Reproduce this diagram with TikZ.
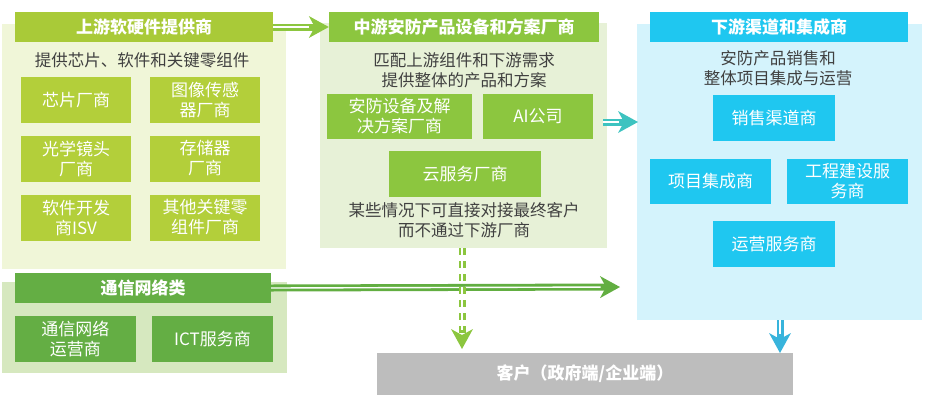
\documentclass[tikz,border=0pt]{standalone}
\usepackage{fontspec}
\setmainfont{Noto Sans CJK SC}
\usetikzlibrary{arrows.meta}
\definecolor{upbg}{HTML}{F0F6D8}
\definecolor{uphd}{HTML}{A9CA38}
\definecolor{upbx}{HTML}{B3CF3A}
\definecolor{midbg}{HTML}{E7F1D7}
\definecolor{midbx}{HTML}{8CC63F}
\definecolor{dnbg}{HTML}{D4F3FC}
\definecolor{dnbx}{HTML}{1FC7F0}
\definecolor{cmbg}{HTML}{D6E8BF}
\definecolor{cmbx}{HTML}{64AE44}
\definecolor{custg}{HTML}{BDBDBD}
\definecolor{txtg}{HTML}{404040}
\definecolor{arrA}{HTML}{8CC63F}
\definecolor{arrB}{HTML}{3DC3C0}
\definecolor{arrC}{HTML}{38B4DC}
\definecolor{arrD}{HTML}{62AE41}
\begin{document}
\begin{tikzpicture}[x=1pt,y=-1pt,
  panel/.style={rectangle, inner sep=0pt, draw=none},
  hdr/.style={rectangle, inner sep=0pt, text=white, font=\fontsize{17}{20}\selectfont\bfseries, minimum height=30pt},
  bx/.style={rectangle, inner sep=0pt, text=white, align=center, font=\fontsize{17}{20}\selectfont, minimum height=46pt},
  sub/.style={text=txtg, align=center, inner sep=0pt, font=\fontsize{16.5}{20}\selectfont},
  flow/.style={line width=7pt, -{Stealth[length=20pt,width=22pt,inset=6pt,line width=0pt]}},
  flowgap/.style={white, line width=1.4pt, shorten >=19.5pt},
  dashpat/.style={dash pattern=on 7pt off 6pt}
]
\useasboundingbox (0,0) rectangle (927,400);
% upstream
\node[panel, fill=upbg, minimum width=284pt, minimum height=245pt] (uppanel) at (144,146.5) {};
\node[hdr, fill=uphd, minimum width=258pt] (uphdr) at (144,27) {上游软硬件提供商};
\node[sub] (upsub) at (142,60) {提供芯片、软件和关键零组件};
\node[bx, fill=upbx, minimum width=110pt] (chip) at (76,100) {芯片厂商};
\node[bx, fill=upbx, minimum width=110pt] (sensor) at (205,100) {图像传感\\器厂商};
\node[bx, fill=upbx, minimum width=110pt] (lens) at (76,158.5) {光学镜头\\厂商};
\node[bx, fill=upbx, minimum width=110pt] (storage) at (205,158.5) {存储器\\厂商};
\node[bx, fill=upbx, minimum width=110pt] (isv) at (76,217.5) {软件开发\\商ISV};
\node[bx, fill=upbx, minimum width=110pt] (other) at (205,217.5) {其他关键零\\组件厂商};
% midstream
\node[panel, fill=midbg, minimum width=287pt, minimum height=225pt] (midpanel) at (463.5,135.5) {};
\node[hdr, fill=midbx, minimum width=270pt] (midhdr) at (464,27) {中游安防产品设备和方案厂商};
\node[sub] (midsub) at (464,70) {匹配上游组件和下游需求\\提供整体的产品和方案};
\node[bx, fill=midbx, minimum width=145pt, minimum height=45pt] (secvendor) at (399.5,116.5) {安防设备及解\\决方案厂商};
\node[bx, fill=midbx, minimum width=110pt, minimum height=45pt] (ai) at (538,116.5) {AI公司};
\node[bx, fill=midbx, minimum width=152pt] (cloud) at (465,174) {云服务厂商};
\node[sub] (midnote) at (464,220.5) {某些情况下可直接对接最终客户\\而不通过下游厂商};
% downstream
\node[panel, fill=dnbg, minimum width=285pt, minimum height=296pt] (dnpanel) at (779.5,172) {};
\node[hdr, fill=dnbx, minimum width=258pt] (dnhdr) at (779,27) {下游渠道和集成商};
\node[sub] (dnsub) at (778,68.5) {安防产品销售和\\整体项目集成与运营};
\node[bx, fill=dnbx, minimum width=122pt] (sales) at (774,118) {销售渠道商};
\node[bx, fill=dnbx, minimum width=121pt, minimum height=45pt] (integ) at (710.5,181.5) {项目集成商};
\node[bx, fill=dnbx, minimum width=121pt, minimum height=45pt] (eng) at (847.5,181.5) {工程建设服\\务商};
\node[bx, fill=dnbx, minimum width=122pt] (ops) at (774,244) {运营服务商};
% communication
\node[panel, fill=cmbg, minimum width=285pt, minimum height=91pt] (cmpanel) at (144.5,327.5) {};
\node[hdr, fill=cmbx, minimum width=256pt] (cmhdr) at (143,288) {通信网络类};
\node[bx, fill=cmbx, minimum width=121pt] (telco) at (75.5,339) {通信网络\\运营商};
\node[bx, fill=cmbx, minimum width=121pt] (ict) at (212.5,339) {ICT服务商};
% customer
\node[hdr, fill=custg, minimum width=416pt, minimum height=42pt] (cust) at (585,374) {客户（政府端/企业端）};
% connectors
\coordinate (midR) at (603,122);
\coordinate (dnL) at (638,122);
\coordinate (cmEnd) at (620,287);
\coordinate (dashS) at (462,248);
\coordinate (dashE) at (462,349);
\coordinate (dnS) at (780,320);
\coordinate (custT) at (780,353);
\draw[flow, arrD] (cmhdr.east) -- (cmEnd);
\draw[flowgap] (cmhdr.east) -- (cmEnd);
\draw[flow, arrA] (uphdr.east) -- (midhdr.west);
\draw[flowgap] (uphdr.east) -- (midhdr.west);
\draw[flow, arrB] (midR) -- (dnL);
\draw[flowgap] (midR) -- (dnL);
\draw[flow, arrC] (dnS) -- (custT);
\draw[flowgap] (dnS) -- (custT);
\draw[flow, arrA, dashpat] (dashS) -- (dashE);
\draw[flowgap, dashpat] (dashS) -- (dashE);
\end{tikzpicture}
\end{document}
